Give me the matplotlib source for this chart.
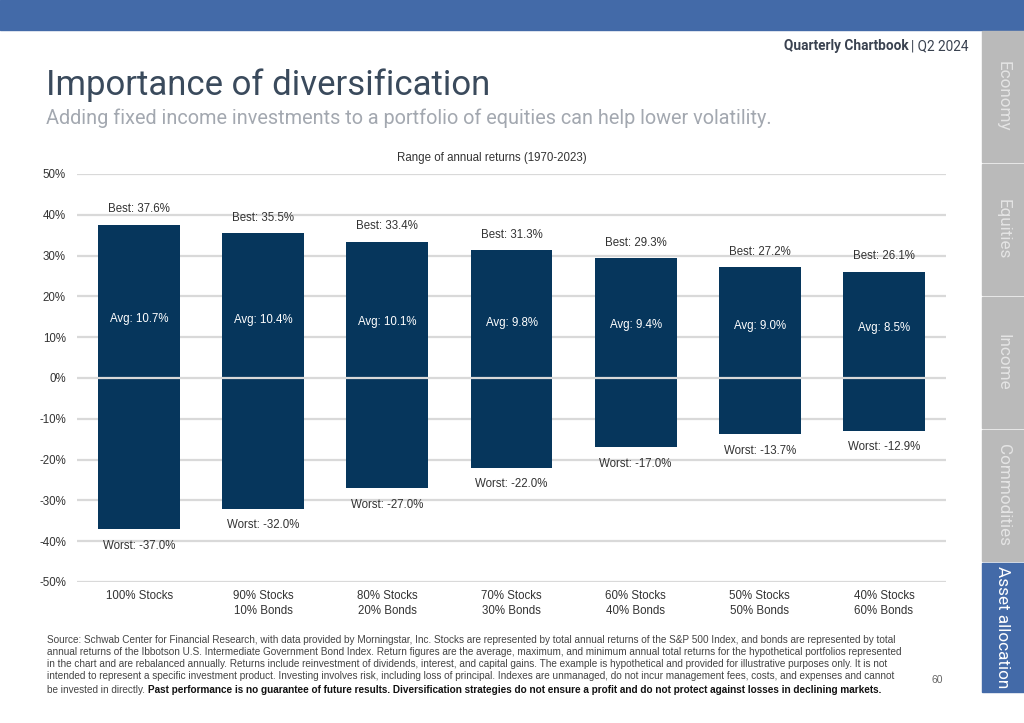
import numpy as np
import matplotlib.pyplot as plt
from matplotlib.patches import Rectangle

categories = ["100% Stocks", "90% Stocks\n10% Bonds", "80% Stocks\n20% Bonds",
              "70% Stocks\n30% Bonds", "60% Stocks\n40% Bonds", "50% Stocks\n50% Bonds",
              "40% Stocks\n60% Bonds"]
best = [37.6, 35.5, 33.4, 31.3, 29.3, 27.2, 26.1]
worst = [-37.0, -32.0, -27.0, -22.0, -17.0, -13.7, -12.9]
avg = [10.7, 10.4, 10.1, 9.8, 9.4, 9.0, 8.5]
yticks = [50, 40, 30, 20, 10, 0, -10, -20, -30, -40, -50]
tabs = ["Economy", "Equities", "Income", "Commodities", "Asset allocation"]

navy = "#06365c"
blue = "#436aa8"
grid_c = "#d9d9d9"
text_c = "#333333"

plt.rcParams['font.family'] = ['Liberation Sans', 'DejaVu Sans']

W, H = 1024, 723
fig = plt.figure(figsize=(W / 100, H / 100), dpi=100)

def fx(px):
    return px / W

def fy(py):
    return 1 - py / H

# top banner
fig.patches.append(Rectangle((0, fy(30)), 1, 30 / H, transform=fig.transFigure,
                             color=blue, zorder=0))

# side tabs
tab_edges = [30, 163, 296, 429, 562, 693]
for i, name in enumerate(tabs):
    y0, y1 = tab_edges[i] + 1, tab_edges[i + 1] - 1
    col = blue if i == len(tabs) - 1 else "#bababa"
    fig.patches.append(Rectangle((fx(982), fy(y1)), fx(1024 - 982), (y1 - y0) / H,
                                 transform=fig.transFigure, color=col, zorder=0))
    fig.text(fx(1003), fy((y0 + y1) / 2), name, rotation=270, ha="center", va="center",
             fontsize=12.3, color="white" if i == len(tabs) - 1 else "#e4e4e4",
             family=["Roboto", "DejaVu Sans"])

# header texts
fig.text(fx(909), fy(46), "Quarterly Chartbook", ha="right", va="center",
         fontsize=9.8, fontweight="bold", color="#3a4250", family=["Roboto", "DejaVu Sans"])
fig.text(fx(911), fy(46), "| Q2 2024", ha="left", va="center",
         fontsize=9.8, color="#3a4250", family=["Roboto", "DejaVu Sans"])
fig.text(fx(46), fy(85), "Importance of diversification", ha="left", va="center",
         fontsize=25, color="#3a4a5c", family=["Roboto", "DejaVu Sans"])
fig.text(fx(46), fy(118), "Adding fixed income investments to a portfolio of equities can help lower volatility.",
         ha="left", va="center", fontsize=14.3, color="#a3a8b0", family=["Roboto", "DejaVu Sans"])

# chart
ax = fig.add_axes([fx(77), fy(582), fx(946 - 77), (582 - 174) / H])
x = np.arange(len(categories))
ax.bar(x, np.array(best) - np.array(worst), bottom=worst, width=0.66, color=navy, zorder=2)
ax.set_xlim(-0.5, len(categories) - 0.5)
ax.set_ylim(-50, 50)
ax.set_yticks(yticks)
ax.set_yticklabels([f"{v}%" for v in yticks])
for v in yticks:
    ax.axhline(v, color=grid_c, lw=1.6, zorder=3 if v == 0 else 1)
ax.set_xticks(x)
ax.set_xticklabels(categories, fontsize=8.3, color=text_c, linespacing=1.25)
ax.tick_params(axis="y", labelsize=8.3, labelcolor=text_c, length=0, pad=8)
ax.tick_params(axis="x", length=0, pad=6)
for s in ax.spines.values():
    s.set_visible(False)

for i in range(len(categories)):
    ax.annotate(f"Best: {best[i]}%", (x[i], best[i]), xytext=(0, 11), textcoords="offset points",
                ha="center", va="center", fontsize=8.3, color=text_c)
    ax.annotate(f"Worst: {worst[i]}%", (x[i], worst[i]), xytext=(0, -12), textcoords="offset points",
                ha="center", va="center", fontsize=8.3, color=text_c)
    ax.text(x[i], avg[i] + 3.7, f"Avg: {avg[i]}%", ha="center", va="center",
            fontsize=8.3, color="white", zorder=4)

fig.text(fx(492), fy(158), "Range of annual returns (1970-2023)", ha="center", va="center",
         fontsize=8.3, color=text_c)

# footnote
foot = ("Source: Schwab Center for Financial Research, with data provided by Morningstar, Inc. Stocks are represented by total annual returns of the S&P 500 Index, and bonds are represented by total\n"
        "annual returns of the Ibbotson U.S. Intermediate Government Bond Index. Return figures are the average, maximum, and minimum annual total returns for the hypothetical portfolios represented\n"
        "in the chart and are rebalanced annually. Returns include reinvestment of dividends, interest, and capital gains. The example is hypothetical and provided for illustrative purposes only. It is not\n"
        "intended to represent a specific investment product. Investing involves risk, including loss of principal. Indexes are unmanaged, do not incur management fees, costs, and expenses and cannot")
fs = 7.2
fig.text(fx(47), fy(635), foot, ha="left", va="top", fontsize=fs, color="#444444",
         linespacing=1.25)
last = fig.text(fx(47), fy(690), "be invested in directly. ", ha="left", va="center",
                fontsize=fs, color="#444444")
renderer = fig.canvas.get_renderer()
bb = last.get_window_extent(renderer=renderer)
fig.text(bb.x1 / W, fy(690), "Past performance is no guarantee of future results. Diversification strategies do not ensure a profit and do not protect against losses in declining markets.",
         ha="left", va="center", fontsize=fs, fontweight="bold", color="#111111")
fig.text(fx(937), fy(680), "60", ha="center", va="center", fontsize=7.5, color="#666666")

fig.savefig("out.png", dpi=100, facecolor="white")
